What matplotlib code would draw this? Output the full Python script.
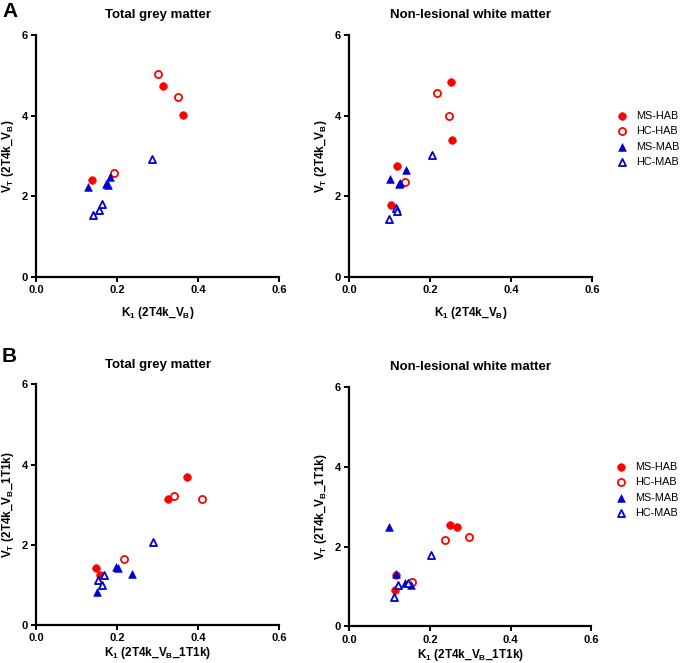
import matplotlib
matplotlib.use("Agg")
import matplotlib.pyplot as plt

plt.rcParams['font.family'] = ['Liberation Sans', 'DejaVu Sans']
plt.rcParams['mathtext.fontset'] = 'custom'
plt.rcParams['mathtext.rm'] = 'Liberation Sans:bold'
plt.rcParams['mathtext.bf'] = 'Liberation Sans:bold'
plt.rcParams['mathtext.default'] = 'bf'

# # # # # data # # # # #

groups = ['MS-HAB', 'HC-HAB', 'MS-MAB', 'HC-MAB']

# panel A, total grey matter (K1, VT)
a_gm_ms_hab_k1 = [0.138, 0.313, 0.363]
a_gm_ms_hab_vt = [2.41, 4.73, 4.02]
a_gm_hc_hab_k1 = [0.301, 0.351, 0.193]
a_gm_hc_hab_vt = [5.04, 4.47, 2.57]
a_gm_ms_mab_k1 = [0.129, 0.182, 0.172, 0.177]
a_gm_ms_mab_vt = [2.24, 2.48, 2.30, 2.27]
a_gm_hc_mab_k1 = [0.141, 0.156, 0.164, 0.287]
a_gm_hc_mab_vt = [1.54, 1.65, 1.81, 2.92]

# panel A, non-lesional white matter
a_wm_ms_hab_k1 = [0.251, 0.253, 0.117, 0.103]
a_wm_ms_hab_vt = [4.83, 3.40, 2.76, 1.78]
a_wm_hc_hab_k1 = [0.216, 0.246, 0.138]
a_wm_hc_hab_vt = [4.55, 3.99, 2.35]
a_wm_ms_mab_k1 = [0.101, 0.140, 0.123, 0.126]
a_wm_ms_mab_vt = [2.43, 2.66, 2.30, 2.32]
a_wm_hc_mab_k1 = [0.097, 0.116, 0.117, 0.205]
a_wm_hc_mab_vt = [1.44, 1.72, 1.63, 3.03]

# panel B, total grey matter
b_gm_ms_hab_k1 = [0.372, 0.326, 0.149, 0.158]
b_gm_ms_hab_vt = [3.70, 3.15, 1.42, 1.25]
b_gm_hc_hab_k1 = [0.341, 0.411, 0.217]
b_gm_hc_hab_vt = [3.22, 3.13, 1.64]
b_gm_ms_mab_k1 = [0.150, 0.197, 0.202, 0.236]
b_gm_ms_mab_vt = [0.82, 1.45, 1.42, 1.27]
b_gm_hc_mab_k1 = [0.288, 0.168, 0.153, 0.164]
b_gm_hc_mab_vt = [2.08, 1.25, 1.13, 1.00]

# panel B, non-lesional white matter
b_wm_ms_hab_k1 = [0.250, 0.266, 0.115, 0.113]
b_wm_ms_hab_vt = [2.54, 2.49, 1.29, 0.92]
b_wm_hc_hab_k1 = [0.238, 0.296, 0.156]
b_wm_hc_hab_vt = [2.17, 2.24, 1.12]
b_wm_ms_mab_k1 = [0.099, 0.116, 0.137, 0.154]
b_wm_ms_mab_vt = [2.49, 1.32, 1.08, 1.03]
b_wm_hc_mab_k1 = [0.202, 0.110, 0.120, 0.145]
b_wm_hc_mab_vt = [1.78, 0.74, 1.04, 1.08]

xticks = [0.0, 0.2, 0.4, 0.6]
xticklabels = ['0.0', '0.2', '0.4', '0.6']
yticks = [0, 2, 4, 6]

RED = '#ff0000'
BLUE = '#0000cc'


def plot_panel(ax, data, title, xlabel, ylabel, xlabelpad, legend=False):
	"""scatter the four groups in one panel"""

	# marker style per group: (colour, marker, filled)
	styles = [(RED, 'o', True), (RED, 'o', False), (BLUE, '^', True), (BLUE, '^', False)]

	for (k1, vt), (col, mk, filled), name in zip(data, styles, groups):
		if filled:
			ax.scatter(k1, vt, s=30, marker=mk, color=col, edgecolors=col,
				linewidths=0.5, label=name, zorder=3)
		else:
			ax.scatter(k1, vt, s=26, marker=mk, facecolors='white', edgecolors=col,
				linewidths=1.3, label=name, zorder=3)

	ax.set_xlim(0, 0.6)
	ax.set_ylim(0, 6)
	ax.set_xticks(xticks)
	ax.set_xticklabels(xticklabels)
	ax.set_yticks(yticks)

	for s in ['top', 'right']:
		ax.spines[s].set_visible(False)
	for s in ['left', 'bottom']:
		ax.spines[s].set_linewidth(1.6)
	ax.tick_params(width=1.4, length=3.5, labelsize=8, pad=2.5)
	for lab in ax.get_xticklabels() + ax.get_yticklabels():
		lab.set_fontweight('bold')

	ax.set_title(title, fontsize=9.5, fontweight='bold', pad=12)
	ax.set_xlabel(xlabel, fontsize=8.5, fontweight='bold', labelpad=xlabelpad)
	ax.set_ylabel(ylabel, fontsize=8.5, fontweight='bold', labelpad=4)

	if legend:
		ax.legend(loc='upper left', bbox_to_anchor=(1.06, 0.705), frameon=False,
			fontsize=7.8, handletextpad=0.35, labelspacing=0.5, borderaxespad=0)


fig = plt.figure(figsize=(6.85, 6.63), dpi=100)

ax_a1 = fig.add_axes([0.0526, 0.5822, 0.3547, 0.365])
ax_a2 = fig.add_axes([0.5100, 0.5822, 0.3543, 0.365])
ax_b1 = fig.add_axes([0.0526, 0.0573, 0.3547, 0.3631])
ax_b2 = fig.add_axes([0.5100, 0.0553, 0.3530, 0.3611])

xlab_a = 'K$_1$ (2T4k_V$_B$)'
ylab_a = 'V$_T$ (2T4k_V$_B$)'
xlab_b = 'K$_1$ (2T4k_V$_B$_1T1k)'
ylab_b = 'V$_T$ (2T4k_V$_B$_1T1k)'

plot_panel(ax_a1, [(a_gm_ms_hab_k1, a_gm_ms_hab_vt), (a_gm_hc_hab_k1, a_gm_hc_hab_vt),
	(a_gm_ms_mab_k1, a_gm_ms_mab_vt), (a_gm_hc_mab_k1, a_gm_hc_mab_vt)],
	'Total grey matter', xlab_a, ylab_a, 7)
plot_panel(ax_a2, [(a_wm_ms_hab_k1, a_wm_ms_hab_vt), (a_wm_hc_hab_k1, a_wm_hc_hab_vt),
	(a_wm_ms_mab_k1, a_wm_ms_mab_vt), (a_wm_hc_mab_k1, a_wm_hc_mab_vt)],
	'Non-lesional white matter', xlab_a, ylab_a, 7, legend=True)
plot_panel(ax_b1, [(b_gm_ms_hab_k1, b_gm_ms_hab_vt), (b_gm_hc_hab_k1, b_gm_hc_hab_vt),
	(b_gm_ms_mab_k1, b_gm_ms_mab_vt), (b_gm_hc_mab_k1, b_gm_hc_mab_vt)],
	'Total grey matter', xlab_b, ylab_b, 1.5)
plot_panel(ax_b2, [(b_wm_ms_hab_k1, b_wm_ms_hab_vt), (b_wm_hc_hab_k1, b_wm_hc_hab_vt),
	(b_wm_ms_mab_k1, b_wm_ms_mab_vt), (b_wm_hc_mab_k1, b_wm_hc_mab_vt)],
	'Non-lesional white matter', xlab_b, ylab_b, 1.5, legend=True)

# panel letters
fig.text(0.003, 0.982, 'A', fontsize=15, fontweight='bold', va='center')
fig.text(0.003, 0.462, 'B', fontsize=15, fontweight='bold', va='center')

fig.savefig('out.png', dpi=100)
